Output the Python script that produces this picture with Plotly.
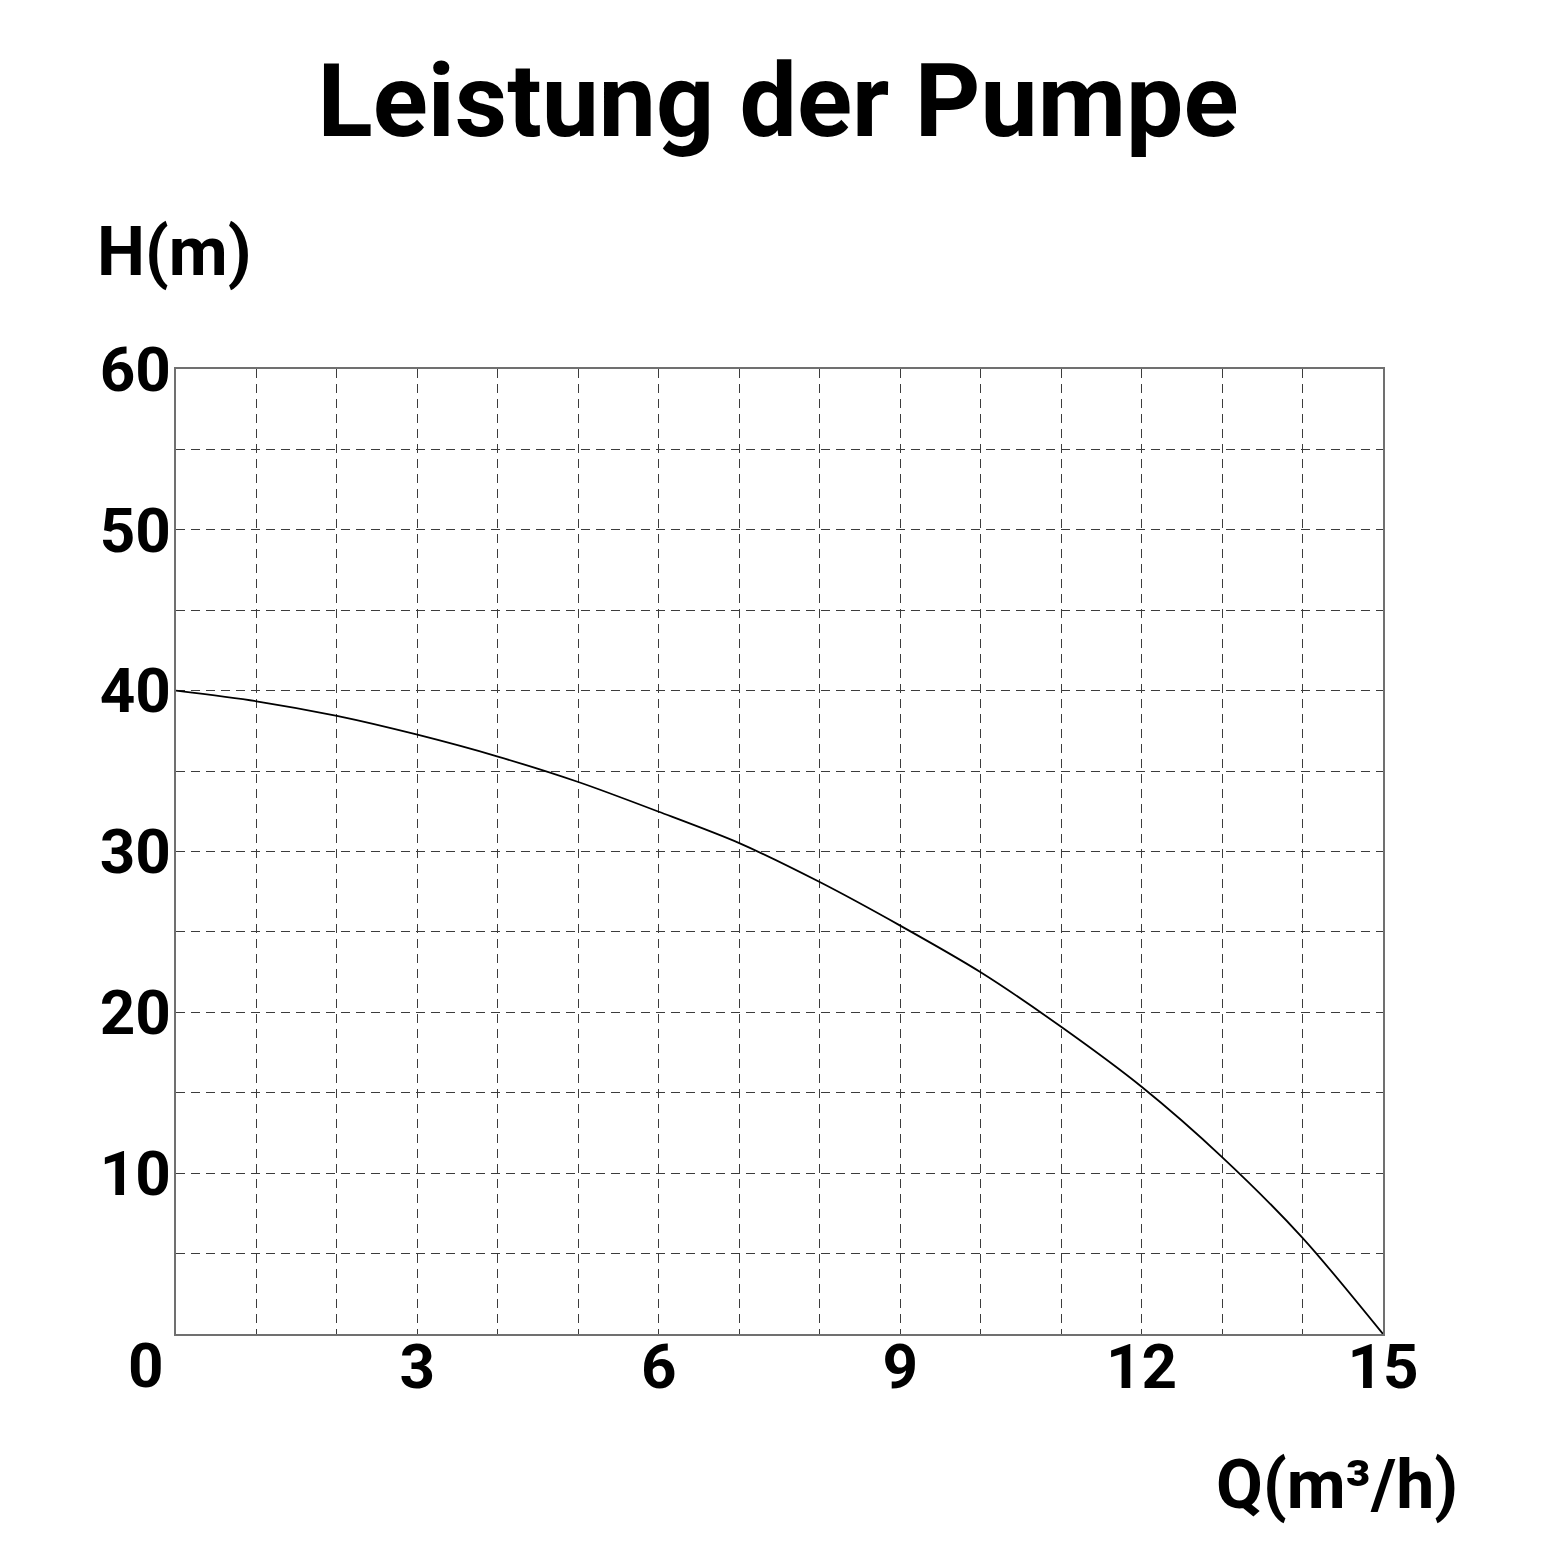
import plotly.graph_objects as go

q_values = [0, 1, 2, 3, 4, 5, 6, 7, 8, 9, 10, 11, 12, 13, 14, 15]
h_values = [40, 39.34, 38.43, 37.26, 35.9, 34.32, 32.47, 30.52, 28.1, 25.39, 22.49, 19.1, 15.37, 11.0, 5.98, 0]

x_grid = list(range(0, 16))
x_labels = ["", "", "", "3", "", "", "6", "", "", "9", "", "", "12", "", "", "15"]
y_grid = [0, 5, 10, 15, 20, 25, 30, 35, 40, 45, 50, 55, 60]
y_labels = ["", "", "10", "", "20", "", "30", "", "40", "", "50", "", "60"]

font_name = "Roboto"
grid_color = "#3c3c3c"
border_color = "#707070"

fig = go.Figure()

fig.add_trace(go.Scatter(
    x=q_values,
    y=h_values,
    mode="lines",
    line=dict(color="black", width=1.8, shape="spline", smoothing=0.8),
    hoverinfo="x+y",
    showlegend=False))

axis_common = dict(
    showgrid=True,
    gridcolor=grid_color,
    gridwidth=1.4,
    griddash="9px,6px",
    zeroline=False,
    showline=True,
    mirror=True,
    linecolor=border_color,
    linewidth=1.6,
    ticks="",
    tickfont=dict(family=font_name, size=62, color="black", weight="bold"))

fig.update_xaxes(
    range=[0, 15],
    tickmode="array",
    tickvals=x_grid,
    ticktext=x_labels,
    ticklabelstandoff=-22,
    **axis_common)

fig.update_yaxes(
    range=[0, 60],
    tickmode="array",
    tickvals=y_grid,
    ticktext=y_labels,
    ticklabelstandoff=-9,
    **axis_common)

# "0" sitzt links unter dem Ursprung
fig.add_annotation(
    x=0, y=0, xref="x", yref="y",
    text="0", showarrow=False,
    xshift=-30, yshift=-31,
    font=dict(family=font_name, size=62, color="black", weight="bold"))

fig.add_annotation(
    x=-0.067, y=1.121, xref="paper", yref="paper",
    xanchor="left", yanchor="middle",
    text="H(m)", showarrow=False,
    font=dict(family=font_name, size=68, color="black", weight="bold"))

fig.add_annotation(
    x=1.0638, y=-0.1565, xref="paper", yref="paper",
    xanchor="right", yanchor="middle",
    text="Q(m³/h)", showarrow=False,
    font=dict(family=font_name, size=68, color="black", weight="bold"))

fig.update_layout(
    width=1560,
    height=1560,
    title=dict(
        text="Leistung der Pumpe",
        x=770 / 1560, xanchor="center",
        y=1 - 92 / 1560, yanchor="middle", yref="container",
        font=dict(family=font_name, size=102, color="black", weight="bold")),
    margin=dict(l=168, r=185, t=361, b=234),
    plot_bgcolor="white",
    paper_bgcolor="white")

fig.write_html("out.html")
